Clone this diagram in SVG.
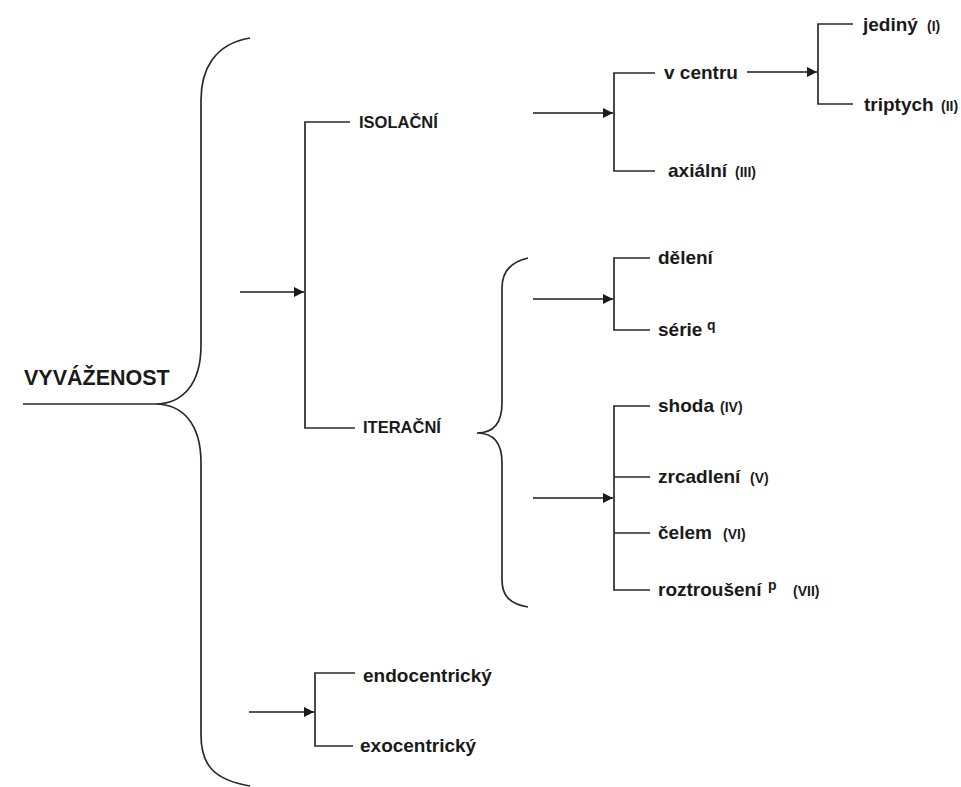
<svg xmlns="http://www.w3.org/2000/svg" width="961" height="787" viewBox="0 0 961 787">
<defs>
<marker id="ah" viewBox="0 0 10 10" refX="10" refY="5" markerWidth="10" markerHeight="10" markerUnits="userSpaceOnUse" orient="auto">
<path d="M0,0 L10,5 L0,10 Z" fill="#1a1a1a"/>
</marker>
<style>
.ln{fill:none;stroke:#2a2a2a;stroke-width:1.7}
.ar{fill:none;stroke:#1a1a1a;stroke-width:1.7;marker-end:url(#ah)}
text{font-family:"Liberation Sans",Arial,sans-serif;font-weight:bold;fill:#1a1a1a}
.t{font-size:19px}
.c{font-size:16.5px}
.r{font-size:14px}
.s{font-size:14px}
</style>
</defs>
<rect width="961" height="787" fill="#fff"/>
<g id="connectors">
<path class="ln" d="M23,404 H155"/>
<path class="ln" d="M250,38 C214,44 201,70 201,100 L201,345 C201,385 182,404 155,404 C182,404 201,423 201,463 L201,735 C201,765 214,780 250,786"/>
<path class="ar" d="M240,292 H304"/>
<path class="ln" d="M350,122 H305 V428 H355"/>
<path class="ar" d="M533,113 H613"/>
<path class="ln" d="M655,73 H614 V171 H655"/>
<path class="ar" d="M747,72 H817"/>
<path class="ln" d="M853,24 H818 V104 H853"/>
<path class="ln" d="M528,258 C510,262 502,272 502,288 L502,403 C502,422 494,433 477,433 C494,433 502,444 502,463 L502,580 C502,596 510,604 528,607"/>
<path class="ar" d="M533,299 H613"/>
<path class="ln" d="M650,258 H614 V330 H650"/>
<path class="ar" d="M533,498 H613"/>
<path class="ln" d="M650,406 H614 V590 H650 M614,477 H650 M614,533 H650"/>
<path class="ar" d="M249,712 H314"/>
<path class="ln" d="M355,673 H315 V746 H353"/>
</g>
<g id="n-vyvazenost"><text x="24" y="385" style="font-size:21.5px">VYVÁŽENOST</text></g>
<g id="n-isolacni"><text class="c" x="359" y="128">ISOLAČNÍ</text></g>
<g id="n-iteracni"><text class="c" x="363" y="433">ITERAČNÍ</text></g>
<g id="n-vcentru"><text class="t" x="664" y="79">v centru</text></g>
<g id="n-axialni"><text class="t" x="668" y="177">axiální<tspan class="r" x="735">(III)</tspan></text></g>
<g id="n-jediny"><text class="t" x="863" y="31">jediný<tspan class="r" x="927">(I)</tspan></text></g>
<g id="n-triptych"><text class="t" x="864" y="111">triptych<tspan class="r" x="941">(II)</tspan></text></g>
<g id="n-deleni"><text class="t" x="658" y="264">dělení</text></g>
<g id="n-serie"><text class="t" x="658" y="336">série<tspan class="s" x="707" dy="-6">q</tspan></text></g>
<g id="n-shoda"><text class="t" x="658" y="412">shoda<tspan class="r" x="720">(IV)</tspan></text></g>
<g id="n-zrcadleni"><text class="t" x="658" y="483">zrcadlení<tspan class="r" x="750">(V)</tspan></text></g>
<g id="n-celem"><text class="t" x="658" y="539">čelem<tspan class="r" x="723">(VI)</tspan></text></g>
<g id="n-roztrouseni"><text class="t" x="658" y="596">roztroušení<tspan class="s" x="768" dy="-6">p</tspan><tspan class="r" x="793" dy="6">(VII)</tspan></text></g>
<g id="n-endo"><text class="t" x="363" y="682">endocentrický</text></g>
<g id="n-exo"><text class="t" x="360" y="752">exocentrický</text></g>
</svg>
